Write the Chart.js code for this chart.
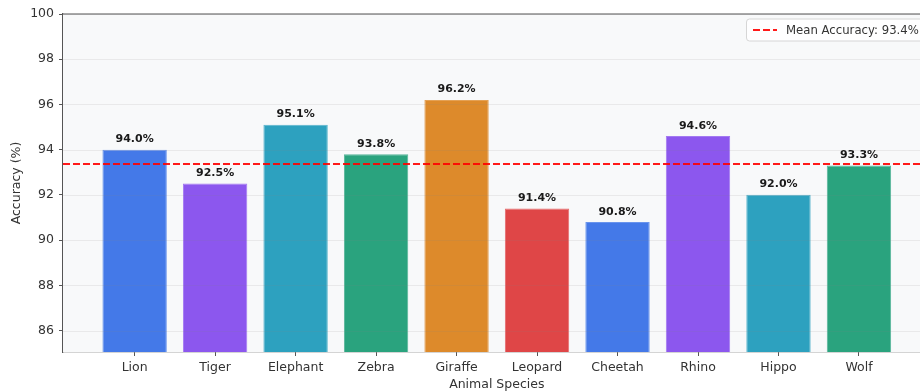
<!DOCTYPE html>
<html>
<head>
<meta charset="utf-8">
<script src="https://cdn.jsdelivr.net/npm/chart.js@4/dist/chart.umd.min.js"></script>
<style>
  html, body { margin: 0; padding: 0; background: #ffffff; overflow: hidden; }
  #wrap { width: 940px; height: 400px; }
</style>
</head>
<body>
<div id="wrap"><canvas id="chart" width="940" height="400"></canvas></div>
<script>
// Per-species classification accuracy (%)
const species = ['Lion', 'Tiger', 'Elephant', 'Zebra', 'Giraffe', 'Leopard', 'Cheetah', 'Rhino', 'Hippo', 'Wolf'];
const accuracy = [94.0, 92.5, 95.1, 93.8, 96.2, 91.4, 90.8, 94.6, 92.0, 93.3];
const barColors = ['#4479e8', '#8c57ee', '#2da1bf', '#2aa37e', '#dd8a2b', '#df4647', '#4479e8', '#8c57ee', '#2da1bf', '#2aa37e'];
const yTicks = [86, 88, 90, 92, 94, 96, 98, 100];
const yRange = [85.05, 100];
const xRange = [-0.89, 9.89];

const meanAcc = accuracy.reduce((a, b) => a + b, 0) / accuracy.length;
const FONT = "'DejaVu Sans', sans-serif";

function tint(hex, f) {
  const n = parseInt(hex.slice(1), 16);
  const r = (n >> 16) & 255, g = (n >> 8) & 255, b = n & 255;
  const m = c => Math.round(c + (255 - c) * f);
  return `rgb(${m(r)},${m(g)},${m(b)})`;
}

// Plot background, spines, grid overlay, value labels and legend box
const decor = {
  id: 'decor',
  beforeDatasetsDraw(chart) {
    const { ctx, chartArea: a } = chart;
    ctx.save();
    ctx.fillStyle = '#f8f9fa';
    ctx.fillRect(a.left, a.top, a.right - a.left, a.bottom - a.top);
    ctx.restore();
  },
  afterDatasetDraw(chart, args) {
    if (args.index !== 0) return;
    const { ctx, chartArea: a, scales } = chart;
    ctx.save();
    ctx.strokeStyle = 'rgba(128,128,128,0.13)';
    ctx.lineWidth = 1;
    yTicks.forEach(v => {
      const y = Math.round(scales.y.getPixelForValue(v)) + 0.5;
      ctx.beginPath();
      ctx.moveTo(a.left, y);
      ctx.lineTo(a.right, y);
      ctx.stroke();
    });
    ctx.restore();
  },
  afterDatasetsDraw(chart) {
    const { ctx, chartArea: a } = chart;
    ctx.save();
    // value labels
    const meta = chart.getDatasetMeta(0);
    ctx.fillStyle = '#1a1a1a';
    ctx.font = `bold 11px ${FONT}`;
    ctx.textAlign = 'center';
    ctx.textBaseline = 'alphabetic';
    meta.data.forEach((bar, i) => {
      ctx.fillText(accuracy[i].toFixed(1) + '%', bar.x, bar.y - 7.5);
    });
    // top / right spines
    ctx.strokeStyle = '#555555';
    ctx.lineWidth = 1.2;
    ctx.beginPath();
    ctx.moveTo(a.left, a.top);
    ctx.lineTo(a.right, a.top);
    ctx.lineTo(a.right, a.bottom);
    ctx.stroke();
    // legend
    const bx = 746.5, by = 19, bw = 180, bh = 22, r = 3;
    ctx.beginPath();
    ctx.moveTo(bx + r, by);
    ctx.lineTo(bx + bw - r, by);
    ctx.arcTo(bx + bw, by, bx + bw, by + r, r);
    ctx.lineTo(bx + bw, by + bh - r);
    ctx.arcTo(bx + bw, by + bh, bx + bw - r, by + bh, r);
    ctx.lineTo(bx + r, by + bh);
    ctx.arcTo(bx, by + bh, bx, by + bh - r, r);
    ctx.lineTo(bx, by + r);
    ctx.arcTo(bx, by, bx + r, by, r);
    ctx.closePath();
    ctx.fillStyle = 'rgba(255,255,255,0.85)';
    ctx.fill();
    ctx.strokeStyle = '#d6d6d6';
    ctx.lineWidth = 1;
    ctx.stroke();
    ctx.strokeStyle = 'rgba(255,0,0,0.9)';
    ctx.lineWidth = 2;
    ctx.setLineDash([7, 3]);
    ctx.beginPath();
    ctx.moveTo(753, by + bh / 2);
    ctx.lineTo(777, by + bh / 2);
    ctx.stroke();
    ctx.setLineDash([]);
    ctx.fillStyle = '#333333';
    ctx.font = `11.7px ${FONT}`;
    ctx.textAlign = 'left';
    ctx.textBaseline = 'middle';
    ctx.fillText(`Mean Accuracy: ${meanAcc.toFixed(1)}%`, 786, by + bh / 2 + 0.5);
    ctx.restore();
  }
};

new Chart(document.getElementById('chart'), {
  type: 'bar',
  data: {
    datasets: [
      {
        type: 'bar',
        label: 'Accuracy',
        data: accuracy.map((v, i) => ({ x: i, y: v })),
        backgroundColor: barColors,
        borderColor: barColors.map(c => tint(c, 0.2)),
        borderWidth: 1,
        barPercentage: 0.8,
        categoryPercentage: 1.0,
        order: 1
      },
      {
        type: 'line',
        label: 'Mean Accuracy',
        data: [{ x: xRange[0], y: meanAcc }, { x: xRange[1], y: meanAcc }],
        borderColor: 'rgba(255,0,0,0.9)',
        borderWidth: 2,
        borderDash: [7, 3],
        pointRadius: 0,
        fill: false,
        order: 0
      }
    ]
  },
  options: {
    responsive: false,
    animation: false,
    layout: { padding: { top: 14, right: 9.4, left: 0, bottom: 0 } },
    plugins: {
      legend: { display: false },
      tooltip: { enabled: false }
    },
    scales: {
      x: {
        type: 'linear',
        offset: false,
        min: xRange[0],
        max: xRange[1],
        afterBuildTicks: axis => { axis.ticks = species.map((_, i) => ({ value: i })); },
        afterFit: axis => { axis.height = 48; },
        ticks: {
          autoSkip: false,
          maxRotation: 0,
          padding: 4,
          color: '#333333',
          font: { family: FONT, size: 12.5 },
          callback: v => species[v]
        },
        grid: { offset: false, drawOnChartArea: false, drawTicks: true, tickLength: 4, color: '#555555' },
        border: { display: true, color: '#555555', width: 1.2 },
        title: {
          display: true,
          text: 'Animal Species',
          color: '#333333',
          font: { family: FONT, size: 12.5 },
          padding: { top: 0, bottom: 7.5 }
        }
      },
      y: {
        min: yRange[0],
        max: yRange[1],
        afterBuildTicks: axis => { axis.ticks = yTicks.map(v => ({ value: v })); },
        afterFit: axis => { axis.width = 63; },
        ticks: {
          padding: 5,
          color: '#333333',
          font: { family: FONT, size: 12.5 }
        },
        grid: { drawOnChartArea: false, drawTicks: true, tickLength: 4, color: '#555555' },
        border: { display: true, color: '#555555', width: 1.2 },
        title: {
          display: true,
          text: 'Accuracy (%)',
          color: '#333333',
          font: { family: FONT, size: 12.5 },
          padding: { top: 9.5, bottom: 0 }
        }
      }
    }
  },
  plugins: [decor]
});
</script>
</body>
</html>
